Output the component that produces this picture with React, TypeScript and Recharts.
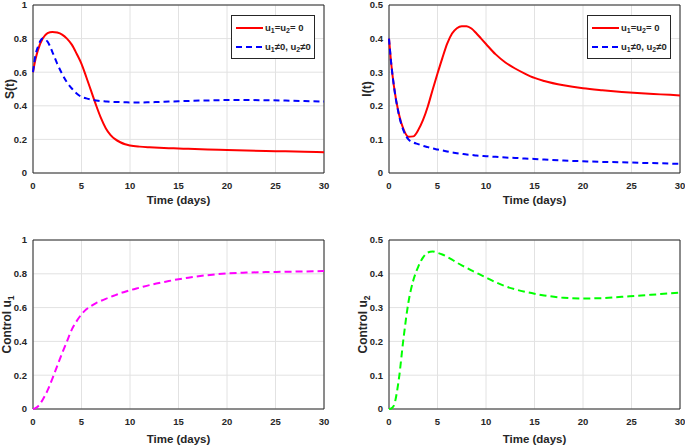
import {
  LineChart,
  Line,
  XAxis,
  YAxis,
  CartesianGrid,
  ReferenceArea,
  Legend,
} from "recharts";

const days = [0, 0.25, 0.5, 1, 1.5, 2, 2.5, 3, 3.5, 4, 4.5, 5, 5.5, 6, 6.5, 7, 7.5, 8, 8.5, 9, 9.5, 10, 11, 12, 13, 14, 15, 16, 18, 20, 22, 24, 26, 28, 30];

const sNoControl = [0.6, 0.675, 0.73, 0.8, 0.832, 0.84, 0.836, 0.824, 0.8, 0.764, 0.71, 0.65, 0.57, 0.487, 0.404, 0.328, 0.267, 0.226, 0.2, 0.183, 0.171, 0.164, 0.157, 0.153, 0.15, 0.148, 0.146, 0.144, 0.14, 0.137, 0.134, 0.131, 0.129, 0.126, 0.124];
const sControl = [0.6, 0.7, 0.75, 0.8, 0.782, 0.72, 0.65, 0.59, 0.54, 0.503, 0.473, 0.453, 0.444, 0.437, 0.432, 0.428, 0.426, 0.424, 0.423, 0.422, 0.421, 0.42, 0.42, 0.421, 0.423, 0.425, 0.427, 0.429, 0.432, 0.434, 0.434, 0.433, 0.431, 0.428, 0.425];

const iNoControl = [0.4, 0.32, 0.26, 0.178, 0.13, 0.108, 0.109, 0.127, 0.157, 0.198, 0.248, 0.296, 0.342, 0.385, 0.415, 0.431, 0.437, 0.437, 0.43, 0.416, 0.4, 0.384, 0.353, 0.329, 0.311, 0.296, 0.283, 0.274, 0.261, 0.252, 0.246, 0.241, 0.237, 0.234, 0.231];
const iControl = [0.4, 0.32, 0.26, 0.176, 0.126, 0.1, 0.091, 0.086, 0.081, 0.077, 0.073, 0.07, 0.067, 0.064, 0.061, 0.059, 0.057, 0.055, 0.054, 0.052, 0.051, 0.05, 0.048, 0.046, 0.045, 0.043, 0.042, 0.04, 0.037, 0.035, 0.033, 0.032, 0.03, 0.029, 0.027];

const controlU1 = [0, 0.005, 0.015, 0.055, 0.11, 0.18, 0.255, 0.33, 0.4, 0.47, 0.52, 0.56, 0.59, 0.61, 0.627, 0.64, 0.652, 0.663, 0.674, 0.685, 0.694, 0.703, 0.718, 0.733, 0.746, 0.757, 0.768, 0.777, 0.792, 0.802, 0.807, 0.81, 0.812, 0.814, 0.816];
const controlU2 = [0, 0.002, 0.01, 0.085, 0.21, 0.315, 0.38, 0.42, 0.448, 0.463, 0.466, 0.462, 0.457, 0.45, 0.442, 0.433, 0.425, 0.418, 0.41, 0.403, 0.396, 0.389, 0.375, 0.363, 0.354, 0.347, 0.341, 0.336, 0.329, 0.327, 0.328, 0.332, 0.336, 0.34, 0.344];

const xTicks = [0, 5, 10, 15, 20, 25, 30];
const sTicks = [0, 0.2, 0.4, 0.6, 0.8, 1];
const iTicks = [0, 0.1, 0.2, 0.3, 0.4, 0.5];

const rows = days.map((t, i) => ({
  t,
  sNo: sNoControl[i],
  sCtl: sControl[i],
  iNo: iNoControl[i],
  iCtl: iControl[i],
  u1: controlU1[i],
  u2: controlU2[i],
}));

const font = "'Liberation Sans', Arial, sans-serif";
const ink = "#262626";
const tickStyle = { fill: ink, fontSize: 9.5, fontWeight: "bold", fontFamily: font };

// x axis title, placed a fixed distance under the axis line
const xTitle = (drop: number) => (props: any) => {
  const vb = props.viewBox;
  return (
    <text
      x={vb.x + vb.width / 2}
      y={vb.y + drop}
      textAnchor="middle"
      fill={ink}
      fontSize={11.5}
      fontWeight="bold"
      fontFamily={font}
    >
      Time (days)
    </text>
  );
};

// rotated y axis title with an optional subscript
const yTitle = (main: string, sub: string, x: number) => (props: any) => {
  const vb = props.viewBox;
  const cy = vb.y + vb.height / 2;
  return (
    <text
      transform={`translate(${x},${cy}) rotate(-90)`}
      textAnchor="middle"
      fill={ink}
      fontSize={12}
      fontWeight="bold"
      fontFamily={font}
    >
      <tspan>{main}</tspan>
      {sub && (
        <tspan dy={3} fontSize={8.5}>
          {sub}
        </tspan>
      )}
    </text>
  );
};

const subStyle = { fontSize: 7, verticalAlign: "-2px", lineHeight: 0 };

const LegendBox = () => (
  <div
    style={{
      background: "#fff",
      border: `1px solid ${ink}`,
      padding: "2px 3px 2px 4px",
      fontFamily: font,
      fontWeight: "bold",
      fontSize: 9.5,
      color: ink,
      lineHeight: "19px",
      whiteSpace: "nowrap",
    }}
  >
    <div style={{ display: "flex", alignItems: "center" }}>
      <svg width={27} height={6}>
        <line x1={0} y1={3} x2={27} y2={3} stroke="#ff0000" strokeWidth={2} />
      </svg>
      <span style={{ marginLeft: 2 }}>
        u<sub style={subStyle}>1</sub>=u<sub style={subStyle}>2</sub>= 0
      </span>
    </div>
    <div style={{ display: "flex", alignItems: "center" }}>
      <svg width={27} height={6}>
        <line x1={0} y1={3} x2={27} y2={3} stroke="#0000ff" strokeWidth={2} strokeDasharray="6 4" />
      </svg>
      <span style={{ marginLeft: 2 }}>
        u<sub style={subStyle}>1</sub>≠0, u<sub style={subStyle}>2</sub>≠0
      </span>
    </div>
  </div>
);

type PanelProps = {
  left: number;
  top: number;
  width: number;
  height: number;
  marginTop: number;
  marginRight: number;
  yWidth: number;
  xHeight: number;
  yMax: number;
  yTicks: number[];
  yLabel: (props: any) => any;
  xDrop: number;
  legendAt?: { left: number; top: number };
  children: any;
};

function Panel(p: PanelProps) {
  return (
    <div style={{ position: "absolute", left: p.left, top: p.top }}>
      <LineChart
        width={p.width}
        height={p.height}
        data={rows}
        margin={{ top: p.marginTop, right: p.marginRight, bottom: 0, left: 0 }}
      >
        <CartesianGrid stroke="#e2e2e2" strokeWidth={1} />
        <XAxis
          dataKey="t"
          type="number"
          domain={[0, 30]}
          ticks={xTicks}
          height={p.xHeight}
          axisLine={false}
          tickLine={false}
          tickSize={0}
          tickMargin={9}
          tick={tickStyle}
          label={{ content: xTitle(p.xDrop) }}
        />
        <YAxis
          type="number"
          domain={[0, p.yMax]}
          ticks={p.yTicks}
          width={p.yWidth}
          axisLine={false}
          tickLine={false}
          tickSize={0}
          tickMargin={6}
          tick={tickStyle}
          label={{ content: p.yLabel }}
        />
        <ReferenceArea x1={0} x2={30} y1={0} y2={p.yMax} fill="none" stroke={ink} strokeWidth={1} />
        {p.children}
        {p.legendAt && (
          <Legend
            layout="horizontal"
            verticalAlign="middle"
            align="center"
            content={() => <LegendBox />}
            wrapperStyle={{ left: p.legendAt.left, top: p.legendAt.top, width: "auto" }}
          />
        )}
      </LineChart>
    </div>
  );
}

export default function App() {
  return (
    <div
      style={{
        position: "absolute",
        left: 0,
        top: 0,
        width: 685,
        height: 448,
        background: "#fff",
      }}
    >
      <Panel
        left={0}
        top={0}
        width={342}
        height={208}
        marginTop={5}
        marginRight={18}
        yWidth={33}
        xHeight={35}
        yMax={1}
        yTicks={sTicks}
        yLabel={yTitle("S(t)", "", 13.5)}
        xDrop={30.5}
        legendAt={{ left: 231, top: 15 }}
      >
        <Line dataKey="sNo" type="monotone" stroke="#ff0000" strokeWidth={2} dot={false} isAnimationActive={false} />
        <Line dataKey="sCtl" type="monotone" stroke="#0000ff" strokeWidth={2} strokeDasharray="6 4" dot={false} isAnimationActive={false} />
      </Panel>
      <Panel
        left={342}
        top={0}
        width={343}
        height={208}
        marginTop={5}
        marginRight={5}
        yWidth={47}
        xHeight={35}
        yMax={0.5}
        yTicks={iTicks}
        yLabel={yTitle("I(t)", "", 28.5)}
        xDrop={30.5}
        legendAt={{ left: 245, top: 15 }}
      >
        <Line dataKey="iNo" type="monotone" stroke="#ff0000" strokeWidth={2} dot={false} isAnimationActive={false} />
        <Line dataKey="iCtl" type="monotone" stroke="#0000ff" strokeWidth={2} strokeDasharray="6 4" dot={false} isAnimationActive={false} />
      </Panel>
      <Panel
        left={0}
        top={230}
        width={342}
        height={218}
        marginTop={10}
        marginRight={18}
        yWidth={33}
        xHeight={39}
        yMax={1}
        yTicks={sTicks}
        yLabel={yTitle("Control u", "1", 10.5)}
        xDrop={33.5}
      >
        <Line dataKey="u1" type="monotone" stroke="#ff00ff" strokeWidth={2} strokeDasharray="7 4" dot={false} isAnimationActive={false} />
      </Panel>
      <Panel
        left={342}
        top={230}
        width={343}
        height={218}
        marginTop={10}
        marginRight={5}
        yWidth={47}
        xHeight={39}
        yMax={0.5}
        yTicks={iTicks}
        yLabel={yTitle("Control u", "2", 24.5)}
        xDrop={33.5}
      >
        <Line dataKey="u2" type="monotone" stroke="#00ff00" strokeWidth={2} strokeDasharray="7 4" dot={false} isAnimationActive={false} />
      </Panel>
    </div>
  );
}
